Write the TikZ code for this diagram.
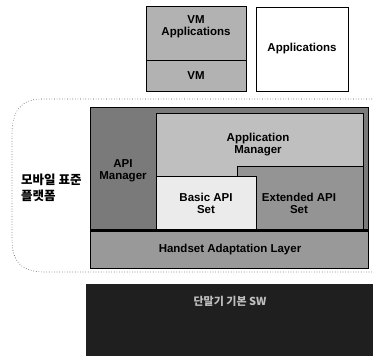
\documentclass[tikz,border=0pt]{standalone}
\usepackage{fontspec}
\setmainfont{Liberation Sans}
\newfontfamily\krfont{Noto Sans CJK KR}
\begin{document}
\begin{tikzpicture}[x=1pt,y=-1pt,
  lbl/.style={font=\bfseries\fontsize{11.5}{12}\selectfont, align=center, inner sep=0pt},
  boxline/.style={draw=black, line width=0.9pt}]
\useasboundingbox (0,0) rectangle (375,356);
% top boxes
\path[boxline, fill=black!30] (146,6) rectangle (246,91);
\draw[line width=0.7pt] (146,60) -- (246,60);
\node[lbl] (vmapp) at (196,27) {VM\\Applications};
\node[lbl] (vm) at (196,76) {VM};
\path[boxline, fill=white] (256,7) rectangle (348,91);
\node[lbl] (apps) at (302,49) {Applications};
% dotted region
\draw[dotted, line width=0.6pt, black!70] (372,99) -- (42,99) .. controls (20,99) and (12,112) .. (12,135) -- (12,240) .. controls (12,262) and (22,272) .. (45,272) -- (372,272);
\node[font=\krfont\bfseries\fontsize{12.5}{16}\selectfont, align=left, anchor=west, inner sep=0pt] (plat) at (21,188) {모바일 표준\\플랫폼};
% main box
\path[boxline, fill=black!52] (90,107) rectangle (368,268);
\path[draw=black, line width=0.7pt, fill=black!25] (156,113) rectangle (363,229);
\path[draw=black, line width=0.7pt, fill=black!42] (237,166) rectangle (363,229);
\path[draw=black, line width=0.7pt, fill=black!8] (156,176) rectangle (256,229);
\path[draw=black, line width=0.7pt, fill=black!40] (90,231) rectangle (368,268);
\draw[line width=1.2pt] (90,230) -- (368,230);
\node[lbl] (apimgr) at (123,171) {API\\Manager};
\node[lbl] (appmgr) at (258,145) {Application\\Manager};
\node[lbl] (basic) at (206,203) {Basic API\\Set};
\node[lbl] (ext) at (299,203) {Extended API\\Set};
\node[lbl] (hal) at (230,250) {Handset Adaptation Layer};
% bottom black box
\path[fill=black!88] (86,284) rectangle (373,356);
\node[font=\krfont\bfseries\fontsize{11}{12}\selectfont, text=black!25, inner sep=0pt] (sw) at (230,301) {단말기 기본 SW};
\end{tikzpicture}
\end{document}
